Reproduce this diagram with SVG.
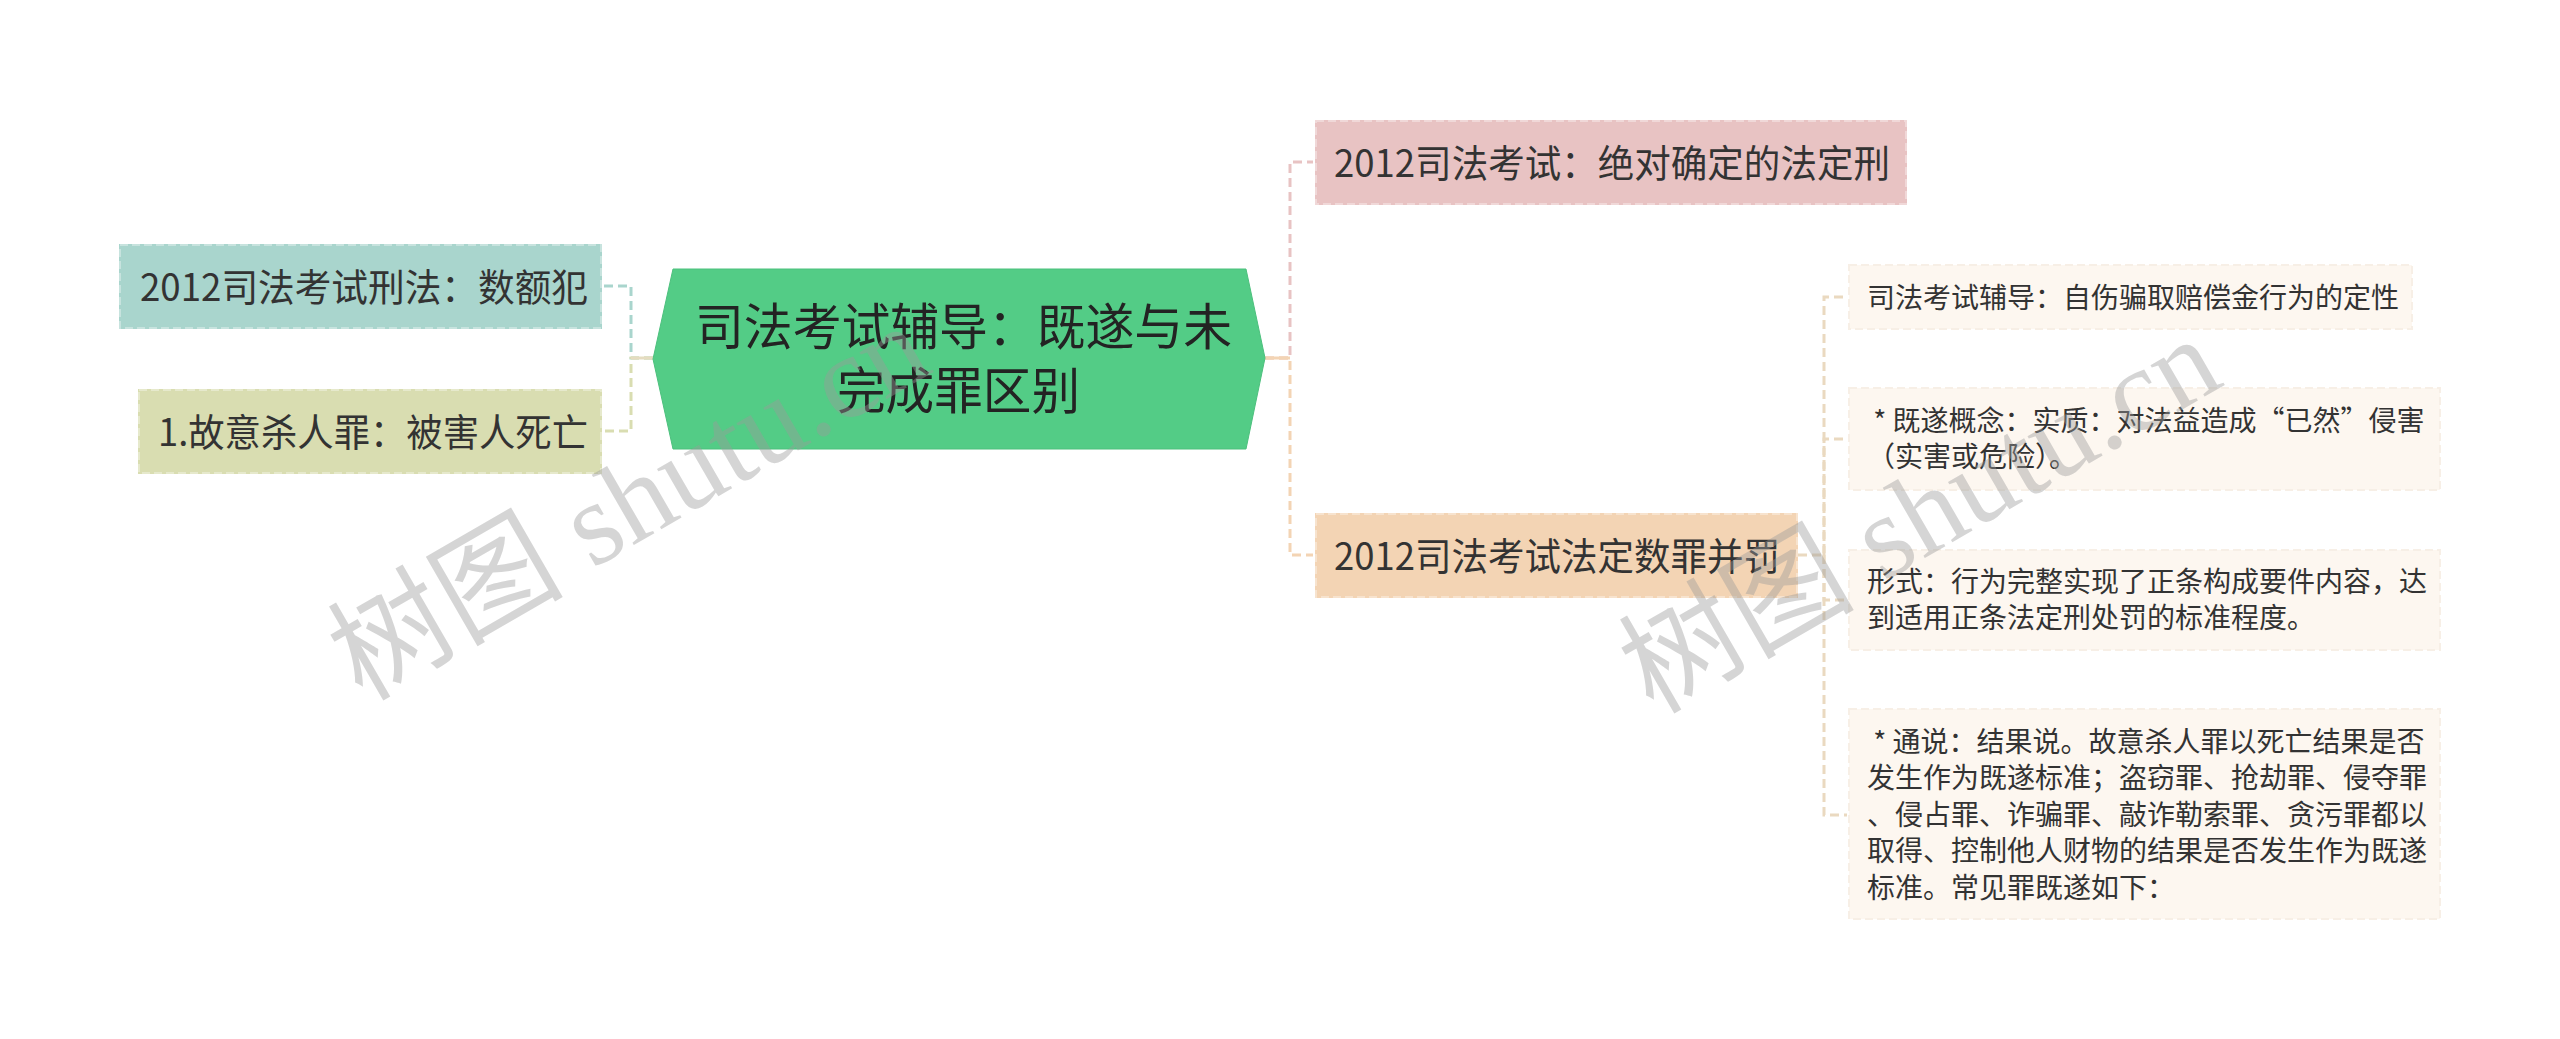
<svg xmlns="http://www.w3.org/2000/svg" width="2560" height="1039" viewBox="0 0 2560 1039">
<style>
.t{font-family:"Noto Sans CJK SC","Noto Sans",sans-serif;fill:#333333}
.l1{font-size:38px}
.c2{font-size:28px}
.ct{font-size:50px;fill:#232323}
.lnk{fill:none;stroke-width:3;stroke-dasharray:9 5}
.bd{stroke:#ffffff;stroke-opacity:0.35;stroke-width:2;stroke-dasharray:8 4}
.ch{fill:#fdf7f0;stroke:#f7efe6;stroke-width:2;stroke-dasharray:8 4}
.wm{font-family:"Liberation Serif","Noto Sans CJK SC",serif;font-size:118px;fill:#9a9a9a;fill-opacity:0.42}
</style>
<rect width="2560" height="1039" fill="#ffffff"/>
<g id="connectors">
<path class="lnk" stroke="#a9d5cd" d="M653 358 H631 V286 H604"/>
<path class="lnk" stroke="#d9ddb1" d="M653 358 H631 V431 H604"/>
<path class="lnk" stroke="#e8c3c3" d="M1265 358 H1290 V162 H1313"/>
<path class="lnk" stroke="#f3d4b4" d="M1265 358 H1290 V555 H1313"/>
<path class="lnk" stroke="#ead9c0" d="M1798 555 H1824 V297 H1847"/>
<path class="lnk" stroke="#ead9c0" d="M1824 555 V439 H1847"/>
<path class="lnk" stroke="#ead9c0" d="M1824 555 V600 H1847"/>
<path class="lnk" stroke="#ead9c0" d="M1824 555 V815 H1847"/>
<path fill="none" stroke="#e5dcc0" stroke-width="3" d="M631 358 H653"/>
<path fill="none" stroke="#f3d4b4" stroke-width="3" d="M1265 358 H1290"/>
</g>
<g id="root">
<polygon points="653,359 673,269 1246,269 1265,358 1246,449 673,449" fill="#53cc86" stroke="#4cc07d" stroke-width="1"/>
<text class="t ct" x="695" y="345" textLength="537" lengthAdjust="spacingAndGlyphs">司法考试辅导：既遂与未</text>
<text class="t ct" x="837" y="409" textLength="243" lengthAdjust="spacingAndGlyphs">完成罪区别</text>
</g>
<g id="n-shue">
<rect x="119" y="244" width="483" height="85" fill="#a9d5cd"/>
<rect class="bd" x="120" y="245" width="481" height="83" fill="none"/>
<text class="t l1" x="140" y="301" textLength="448" lengthAdjust="spacingAndGlyphs">2012司法考试刑法：数额犯</text>
</g>
<g id="n-gyisr">
<rect x="138" y="389" width="464" height="85" fill="#d9ddb1"/>
<rect class="bd" x="139" y="390" width="462" height="83" fill="none"/>
<text class="t l1" x="158" y="446" textLength="430" lengthAdjust="spacingAndGlyphs">1.故意杀人罪：被害人死亡</text>
</g>
<g id="n-jdqd">
<rect x="1315" y="120" width="592" height="85" fill="#e8c3c3"/>
<rect class="bd" x="1316" y="121" width="590" height="83" fill="none"/>
<text class="t l1" x="1334" y="177" textLength="556" lengthAdjust="spacingAndGlyphs">2012司法考试：绝对确定的法定刑</text>
</g>
<g id="n-sz">
<rect x="1315" y="513" width="483" height="85" fill="#f3d4b4"/>
<rect class="bd" x="1316" y="514" width="481" height="83" fill="none"/>
<text class="t l1" x="1334" y="570" textLength="446" lengthAdjust="spacingAndGlyphs">2012司法考试法定数罪并罚</text>
</g>
<g id="c1">
<rect class="ch" x="1849" y="265" width="563" height="64"/>
<text class="t c2" x="1867" y="308">司法考试辅导：自伤骗取赔偿金行为的定性</text>
</g>
<g id="c2">
<rect class="ch" x="1849" y="388" width="591" height="102"/>
<text class="t c2" xml:space="preserve" x="1867" y="431"> * 既遂概念：实质：对法益造成“已然”侵害</text>
<text class="t c2" x="1867" y="467">（实害或危险）。</text>
</g>
<g id="c3">
<rect class="ch" x="1849" y="550" width="591" height="100"/>
<text class="t c2" x="1867" y="592">形式：行为完整实现了正条构成要件内容，达</text>
<text class="t c2" x="1867" y="628">到适用正条法定刑处罚的标准程度。</text>
</g>
<g id="c4">
<rect class="ch" x="1849" y="709" width="591" height="210"/>
<text class="t c2" xml:space="preserve" x="1867" y="752"> * 通说：结果说。故意杀人罪以死亡结果是否</text>
<text class="t c2" x="1867" y="788">发生作为既遂标准；盗窃罪、抢劫罪、侵夺罪</text>
<text class="t c2" x="1867" y="825">、侵占罪、诈骗罪、敲诈勒索罪、贪污罪都以</text>
<text class="t c2" x="1867" y="861">取得、控制他人财物的结果是否发生作为既遂</text>
<text class="t c2" x="1867" y="898">标准。常见罪既遂如下：</text>
</g>
<g id="watermarks">
<text class="wm" transform="translate(362 702) rotate(-30)">树图 shutu.cn</text>
<text class="wm" transform="translate(1653 715) rotate(-30)">树图 shutu.cn</text>
</g>
</svg>
